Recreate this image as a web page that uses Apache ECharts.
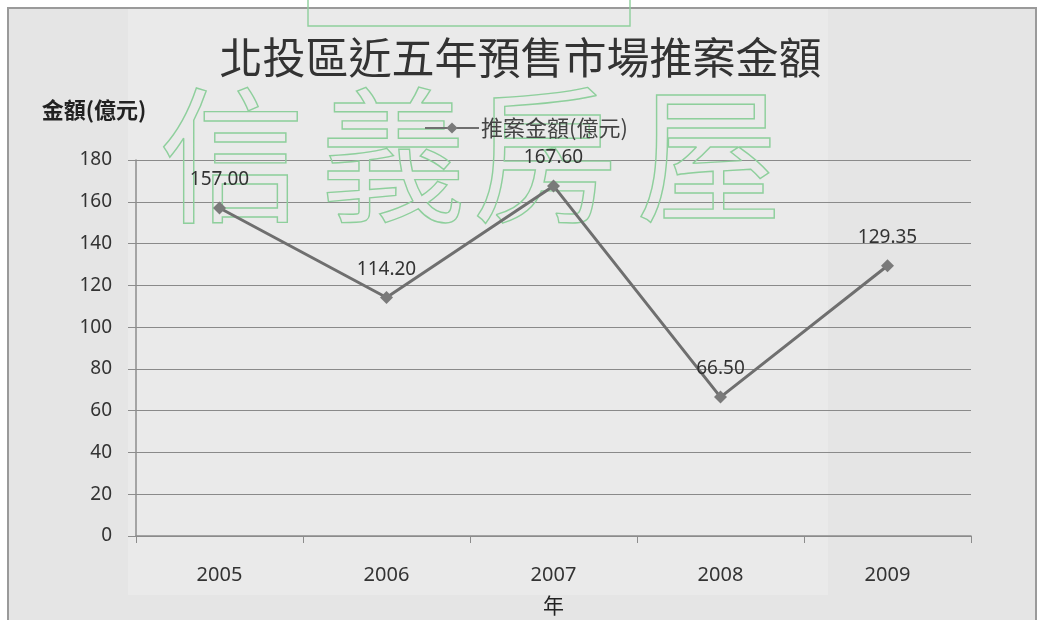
<!DOCTYPE html>
<html>
<head>
<meta charset="utf-8">
<script src="https://cdn.jsdelivr.net/npm/echarts@6/dist/echarts.min.js"></script>
<style>
  html, body { margin: 0; padding: 0; background: #ffffff; }
  #chart { width: 1041px; height: 620px; }
</style>
</head>
<body>
<div id="chart"></div>
<script>
// 北投區近五年預售市場推案金額 (單位：億元)
const years = ['2005', '2006', '2007', '2008', '2009'];
const amounts = [157.00, 114.20, 167.60, 66.50, 129.35];
const seriesName = '推案金額(億元)';
const titleText = '北投區近五年預售市場推案金額';
const yAxisName = '金額(億元)';
const xAxisName = '年';
const watermarkChars = ['信', '義', '房', '屋'];
const yMin = 0, yMax = 180, yStep = 20;

const chart = echarts.init(document.getElementById('chart'), null, { renderer: 'canvas' });

const latin = '"Noto Sans", "Noto Sans CJK TC", sans-serif';
const cjk = '"Noto Sans CJK TC", "Noto Sans", sans-serif';
const wmGreen = '#8ecf9c';

// hollow watermark letters
const wmCenters = [[232, 155], [393, 155], [545, 155], [709, 155]];
const watermark = watermarkChars.map((ch, i) => ({
  type: 'text',
  x: wmCenters[i][0],
  y: wmCenters[i][1],
  z: 1,
  silent: true,
  style: {
    text: ch,
    font: 'normal 146px ' + cjk,
    align: 'center',
    verticalAlign: 'middle',
    fill: 'transparent',
    stroke: wmGreen,
    lineWidth: 1.4
  }
}));

chart.setOption({
  backgroundColor: '#ffffff',
  animation: false,
  title: {
    text: titleText,
    left: 'center',
    top: 31,
    textStyle: {
      fontFamily: cjk,
      fontSize: 43,
      fontWeight: 'normal',
      color: '#333333'
    }
  },
  legend: {
    left: 419,
    top: 112,
    itemWidth: 54,
    itemHeight: 14,
    itemGap: 4,
    textStyle: { fontFamily: cjk, fontSize: 22, color: '#444444', padding: [0, 0, 0, -3] },
    data: [seriesName]
  },
  grid: { left: 136, right: 70, top: 160, bottom: 84, containLabel: false, outerBoundsMode: 'none' },
  graphic: [
    // chart area panel with frame
    {
      type: 'rect', z: -10, silent: true,
      shape: { x: 8, y: 8, width: 1028, height: 640 },
      style: { fill: '#e5e5e5', stroke: '#9a9a9a', lineWidth: 2 }
    },
    {
      type: 'rect', z: -9, silent: true,
      shape: { x: 128, y: 9, width: 700, height: 586 },
      style: { fill: '#eaeaea' }
    },
    // frame of the watermark badge at the top
    {
      type: 'rect', z: 1, silent: true,
      shape: { x: 308, y: -4, width: 322, height: 30 },
      style: { fill: 'transparent', stroke: wmGreen, lineWidth: 1.4 }
    },
    {
      type: 'text', z: 5,
      x: 94, y: 110,
      style: {
        text: yAxisName,
        font: 'bold 22px ' + cjk,
        align: 'center',
        verticalAlign: 'middle',
        fill: '#222222'
      }
    }
  ].concat(watermark),
  xAxis: {
    type: 'category',
    data: years,
    boundaryGap: true,
    name: xAxisName,
    nameLocation: 'middle',
    nameGap: 59,
    nameTextStyle: { fontFamily: cjk, fontSize: 21, color: '#222222' },
    axisLine: { show: true, lineStyle: { color: '#8c8c8c', width: 1.5 } },
    axisTick: { show: true, alignWithLabel: false, length: 7, lineStyle: { color: '#8c8c8c' } },
    axisLabel: { margin: 29, fontFamily: latin, fontSize: 20, color: '#333333' },
    splitLine: { show: false }
  },
  yAxis: {
    type: 'value',
    min: yMin,
    max: yMax,
    interval: yStep,
    axisLine: { show: true, lineStyle: { color: '#8c8c8c', width: 1.5 } },
    axisTick: { show: true, length: 8, lineStyle: { color: '#8c8c8c' } },
    axisLabel: { margin: 24, fontFamily: latin, fontSize: 19, color: '#333333' },
    splitLine: { show: true, lineStyle: { color: '#8a8a8a', width: 1.2 } }
  },
  series: [{
    name: seriesName,
    type: 'line',
    data: amounts,
    z: 10,
    symbol: 'diamond',
    symbolSize: 13,
    lineStyle: { color: '#6f6f6f', width: 3 },
    itemStyle: { color: '#7a7a7a' },
    label: {
      show: true,
      position: 'top',
      distance: 12,
      fontFamily: latin,
      fontSize: 19,
      color: '#333333',
      formatter: (p) => p.value.toFixed(2)
    }
  }]
});
</script>
</body>
</html>
